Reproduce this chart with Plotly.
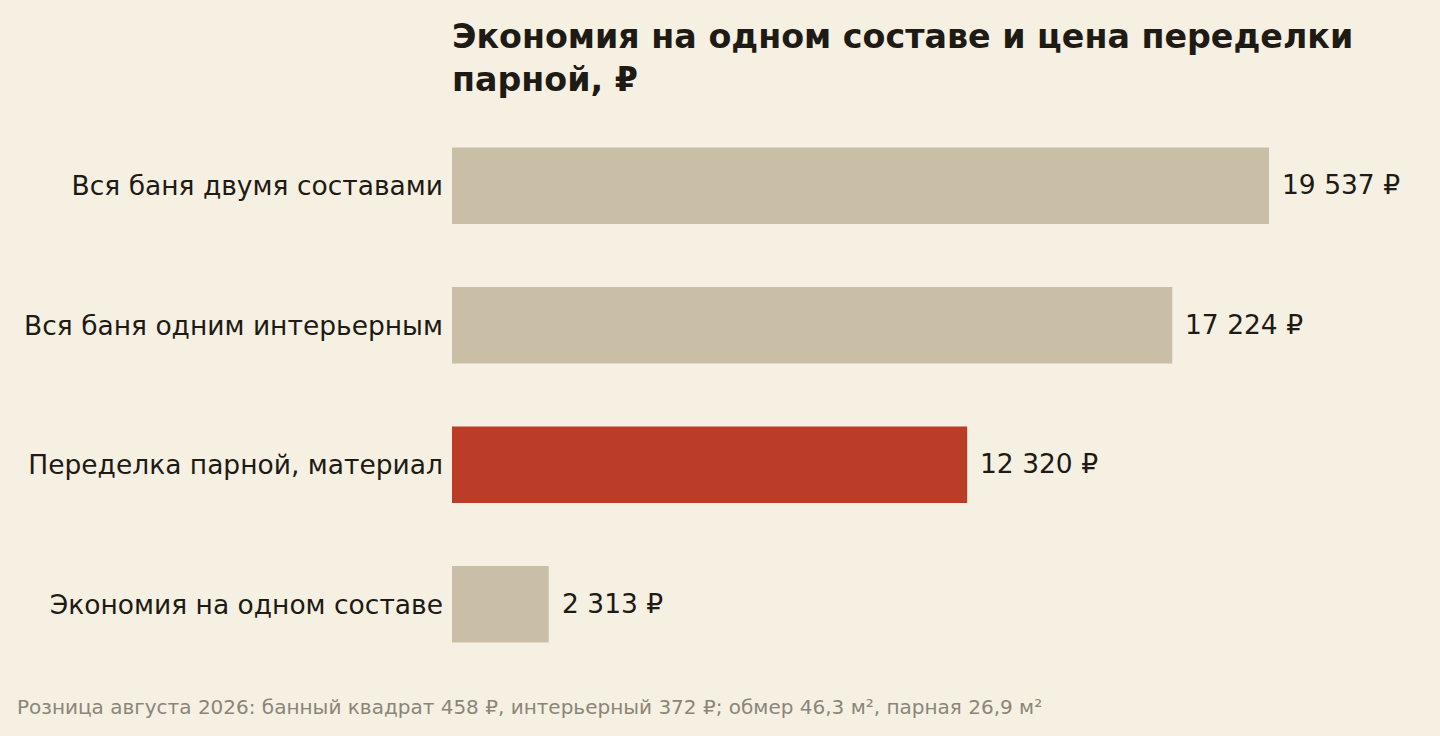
import plotly.graph_objects as go

categories = ["Вся баня двумя составами", "Вся баня одним интерьерным",
              "Переделка парной, материал", "Экономия на одном составе"]
values = [19537, 17224, 12320, 2313]
labels = ["19 537 ₽", "17 224 ₽", "12 320 ₽", "2 313 ₽"]
highlight = "Переделка парной, материал"

bg = "#f6f0e3"
ink = "#1e1a14"
colors = ["#bb3c27" if c == highlight else "#c9bfa7" for c in categories]

fig = go.Figure(go.Bar(
    x=values, y=categories, orientation="h",
    marker=dict(color=colors, line=dict(width=0)),
    width=0.55,
    hoverinfo="skip",
))

# value labels just right of each bar
for v, c, t in zip(values, categories, labels):
    fig.add_annotation(x=v, y=c, text=t, showarrow=False,
                       xanchor="left", yanchor="middle", xshift=11, yshift=1,
                       font=dict(size=26.5, color=ink, family="DejaVu Sans"))

fig.add_annotation(
    text="Розница августа 2026: банный квадрат 458 ₽, интерьерный 372 ₽; обмер 46,3 м², парная 26,9 м²",
    xref="paper", yref="paper", x=-0.461, y=-0.059,
    xanchor="left", yanchor="middle", showarrow=False,
    font=dict(size=20, color="#8b8579", family="DejaVu Sans"))

fig.update_layout(
    width=1440, height=736,
    paper_bgcolor=bg, plot_bgcolor=bg,
    margin=dict(l=452, r=40, t=116, b=62),
    font=dict(family="DejaVu Sans", color=ink),
    title=dict(text="<b>Экономия на одном составе и цена переделки<br>парной, ₽</b>",
               xref="paper", x=0, xanchor="left",
               yref="container", y=0.935, yanchor="top",
               font=dict(size=33.3, color=ink, family="DejaVu Sans")),
    xaxis=dict(range=[0, 22670], visible=False, fixedrange=True),
    yaxis=dict(categoryorder="array", categoryarray=categories[::-1],
               showgrid=False, zeroline=False, showline=False, ticks="",
               ticklabelstandoff=8, tickfont=dict(size=26.5, color=ink)),
    showlegend=False,
    bargap=0.45,
)

fig.write_html("out.html", config={"displayModeBar": False},
               post_script="document.body.style.margin='0';"
                           "document.body.style.background='#f6f0e3';")
